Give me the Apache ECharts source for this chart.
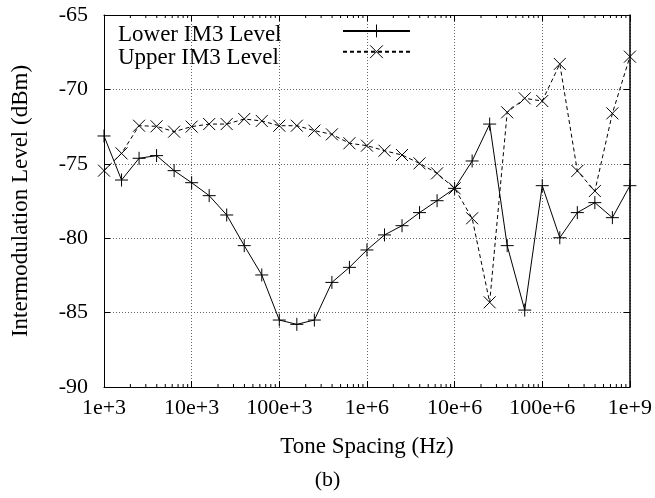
<!DOCTYPE html>
<html>
<head>
<meta charset="utf-8">
<script src="https://cdn.jsdelivr.net/npm/echarts@6/dist/echarts.min.js"></script>
<style>html,body{margin:0;padding:0;background:#fff;}#c{width:655px;height:498px;}</style>
</head>
<body>
<div id="c"></div>
<script>
// Tone spacing (Hz), 5 points per decade
var toneSpacing = [1000, 1585, 2512, 3981, 6310, 10000, 15849, 25119, 39811, 63096,
  100000, 158489, 251189, 398107, 630957, 1000000, 1584893, 2511886, 3981072, 6309573,
  10000000, 15848932, 25118864, 39810717, 63095734, 100000000, 158489319, 251188643, 398107171, 630957344, 1000000000];
var lowerIM3 = [-73.13, -76.09, -74.63, -74.45, -75.46, -76.27, -77.14, -78.44, -80.5, -82.47,
  -85.5, -85.79, -85.5, -82.97, -81.96, -80.79, -79.78, -79.16, -78.28, -77.48,
  -76.65, -74.81, -72.33, -80.5, -84.83, -76.47, -79.97, -78.28, -77.61, -78.62, -76.47];
var upperIM3 = [-75.46, -74.30, -72.44, -72.48, -72.84, -72.5, -72.33, -72.33, -71.99, -72.12,
  -72.44, -72.44, -72.77, -73.02, -73.62, -73.78, -74.12, -74.41, -74.97, -75.64,
  -76.65, -78.66, -84.31, -71.54, -70.6, -70.78, -68.29, -75.48, -76.83, -71.61, -67.8];
var seriesNames = ['Lower IM3 Level', 'Upper IM3 Level'];
var xTickLabels = {1e3: '1e+3', 1e4: '10e+3', 1e5: '100e+3', 1e6: '1e+6', 1e7: '10e+6', 1e8: '100e+6', 1e9: '1e+9'};
var decades = [1e3, 1e4, 1e5, 1e6, 1e7, 1e8];
var minorMult = [2, 3, 4, 5, 6, 7, 8, 9];

var minorTicks = [];
decades.forEach(function (d) { minorMult.forEach(function (m) { minorTicks.push([d * m]); }); });

function pairs(xs, ys) { return xs.map(function (x, i) { return [x, ys[i]]; }); }

var FONT = 'Liberation Serif';
var FS = 23;
var FT = 22;
var chart = echarts.init(document.getElementById('c'), null, {renderer: 'canvas'});
var gridColor = '#666';
var xBase = {type: 'log', logBase: 10, min: 1e3, max: 1e9};
var yBase = {type: 'value', min: -90, max: -65, interval: 5};

chart.setOption({
  animation: false,
  backgroundColor: '#fff',
  grid: {left: 104, right: 25, top: 15, bottom: 111, containLabel: false},
  title: {text: '(b)', left: 'center', top: 469, padding: 0, textStyle: {fontFamily: FONT, fontSize: FT, fontWeight: 'normal', color: '#000'}},
  // legend samples (line + marker) drawn by the library, labels placed as texts at the left like gnuplot's key
  legend: {
    data: seriesNames, orient: 'vertical', left: 342, top: 24, itemGap: 7, padding: 0,
    itemWidth: 67, itemHeight: 16,
    itemStyle: {borderWidth: 1},
    formatter: function () { return ''; },
    textStyle: {fontSize: 1, lineHeight: 1, padding: 0}
  },
  graphic: seriesNames.map(function (n, i) {
    return {type: 'text', left: 118, top: 23 + i * 23, silent: true,
      style: {text: n, font: FS + 'px "' + FONT + '"', fill: '#000'}};
  }),
  xAxis: [
    Object.assign({}, xBase, {
      position: 'bottom',
      name: 'Tone Spacing (Hz)', nameLocation: 'middle', nameGap: 48,
      nameTextStyle: {fontFamily: FONT, fontSize: FS, color: '#000'},
      axisLine: {show: true, lineStyle: {color: '#000', width: 1}},
      axisTick: {show: true, inside: true, length: 6, lineStyle: {color: '#000'}},
      axisLabel: {fontFamily: FONT, fontSize: FT, color: '#000', margin: 10,
        formatter: function (v) { return xTickLabels[Math.round(v)] || ''; }},
      splitLine: {show: true, lineStyle: {color: gridColor, type: [1, 2], width: 1}}
    }),
    Object.assign({}, xBase, {
      position: 'top',
      axisLine: {show: true, lineStyle: {color: '#000', width: 1}},
      axisTick: {show: true, inside: true, length: 6, lineStyle: {color: '#000'}},
      axisLabel: {show: false}, splitLine: {show: false}
    })
  ],
  yAxis: [
    Object.assign({}, yBase, {
      position: 'left',
      name: 'Intermodulation Level (dBm)', nameLocation: 'middle', nameGap: 72,
      nameTextStyle: {fontFamily: FONT, fontSize: FS, color: '#000'},
      axisLine: {show: true, lineStyle: {color: '#000', width: 1}},
      axisTick: {show: true, inside: true, length: 6, lineStyle: {color: '#000'}},
      axisLabel: {fontFamily: FONT, fontSize: FT, color: '#000', margin: 16},
      splitLine: {show: true, lineStyle: {color: gridColor, type: [1, 2], width: 1}}
    }),
    Object.assign({}, yBase, {
      position: 'right',
      axisLine: {show: true, lineStyle: {color: '#000', width: 1.5}},
      axisTick: {show: true, inside: true, length: 6, lineStyle: {color: '#000'}},
      axisLabel: {show: false}, splitLine: {show: false}
    })
  ],
  series: [
    {
      name: seriesNames[0], type: 'line', data: pairs(toneSpacing, lowerIM3),
      symbol: 'path://M0,6L12,6M6,0L6,12', symbolSize: 13,
      lineStyle: {color: '#000', width: 1, type: 'solid'},
      itemStyle: {color: 'rgba(0,0,0,0)', borderColor: '#000', borderWidth: 1},
      z: 3
    },
    {
      name: seriesNames[1], type: 'line', data: pairs(toneSpacing, upperIM3),
      symbol: 'path://M0,0L12,12M12,0L0,12', symbolSize: 12,
      lineStyle: {color: '#000', width: 1, type: [4, 3]},
      itemStyle: {color: 'rgba(0,0,0,0)', borderColor: '#000', borderWidth: 1},
      z: 3
    },
    {
      type: 'custom', name: 'minor', data: minorTicks, silent: true, clip: false,
      renderItem: function (params, api) {
        var v = api.value(0);
        var b = api.coord([v, -90]);
        var t = api.coord([v, -65]);
        return {type: 'group', children: [
          {type: 'line', shape: {x1: b[0], y1: b[1], x2: b[0], y2: b[1] - 3}, style: {stroke: '#000', lineWidth: 1}},
          {type: 'line', shape: {x1: t[0], y1: t[1], x2: t[0], y2: t[1] + 3}, style: {stroke: '#000', lineWidth: 1}}
        ]};
      }
    }
  ]
});
</script>
</body>
</html>
